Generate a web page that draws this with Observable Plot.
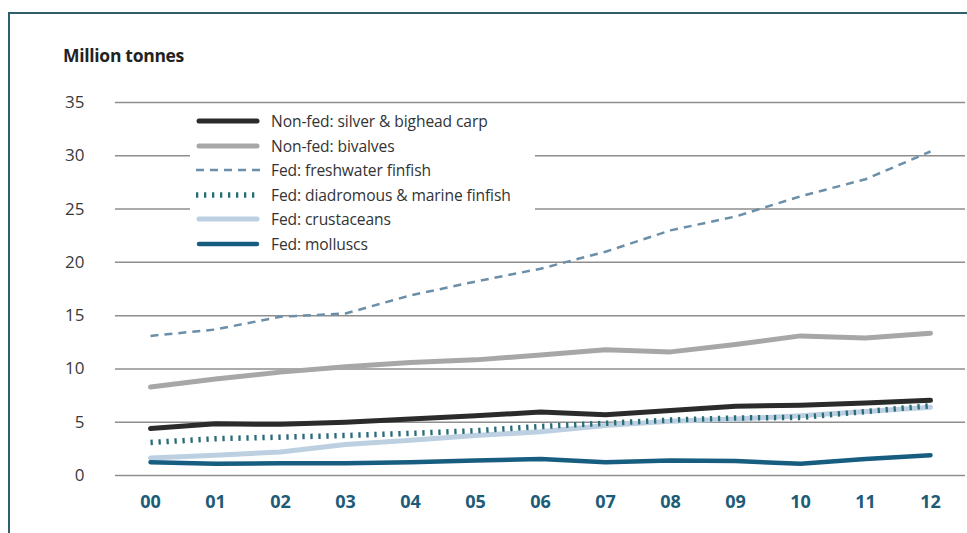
<!DOCTYPE html>
<html>
<head>
<meta charset="utf-8">
<script src="https://cdn.jsdelivr.net/npm/d3@7"></script>
<script src="https://cdn.jsdelivr.net/npm/@observablehq/plot@0.6"></script>
<style>
  html, body { margin: 0; padding: 0; background: #fff; }
  #wrap { position: relative; width: 967px; height: 533px; overflow: hidden; font-family: "Open Sans", "Noto Sans", sans-serif; }
  #frame { position: absolute; left: 8px; top: 12px; right: -10px; bottom: -10px; border-top: 2px solid #2f5f6c; border-left: 2px solid #2f5f6c; }
  #title { position: absolute; left: 63px; top: 43px; font-size: 17.5px; font-weight: 700; color: #222; letter-spacing: -0.3px; }
  #chart { position: absolute; left: 0; top: 0; }
  #legend { position: absolute; left: 190px; top: 108px; width: 345px; height: 147px; background: #fff; }
  .row { position: absolute; left: 0; height: 24px; display: flex; align-items: center; }
  .row svg { display: block; margin-left: 4px; }
  .row span { margin-left: 9px; font-size: 15.6px; color: #333; white-space: nowrap; letter-spacing: -0.1px; }
</style>
</head>
<body>
<div id="wrap">
  <div id="frame"></div>
  <div id="chart"></div>
  <div id="title">Million tonnes</div>
  <div id="legend"></div>
</div>
<script>
const years = ["00","01","02","03","04","05","06","07","08","09","10","11","12"];
const yTicks = [0, 5, 10, 15, 20, 25, 30, 35];

const silverBigheadCarp = [4.4, 4.85, 4.8, 5.0, 5.3, 5.6, 5.95, 5.7, 6.1, 6.5, 6.6, 6.8, 7.05];
const bivalves          = [8.3, 9.05, 9.7, 10.2, 10.6, 10.85, 11.3, 11.8, 11.6, 12.3, 13.1, 12.9, 13.35];
const freshwaterFinfish = [13.1, 13.7, 14.9, 15.2, 16.9, 18.2, 19.4, 21.0, 23.0, 24.3, 26.2, 27.8, 30.4];
const diadromousMarine  = [3.1, 3.45, 3.6, 3.75, 3.95, 4.2, 4.6, 4.9, 5.2, 5.4, 5.45, 6.0, 6.55];
const crustaceans       = [1.65, 1.9, 2.2, 2.9, 3.3, 3.75, 4.1, 4.7, 5.1, 5.3, 5.6, 6.0, 6.4];
const molluscs          = [1.25, 1.1, 1.15, 1.15, 1.25, 1.4, 1.55, 1.25, 1.4, 1.35, 1.1, 1.55, 1.9];

const seriesNames = [
  "Non-fed: silver & bighead carp",
  "Non-fed: bivalves",
  "Fed: freshwater finfish",
  "Fed: diadromous & marine finfish",
  "Fed: crustaceans",
  "Fed: molluscs"
];
const seriesValues = [silverBigheadCarp, bivalves, freshwaterFinfish, diadromousMarine, crustaceans, molluscs];
const styles = [
  {stroke: "#2b2b2b", strokeWidth: 5, strokeLinecap: "round"},
  {stroke: "#a7a7a7", strokeWidth: 5, strokeLinecap: "round"},
  {stroke: "#6b8fa8", strokeWidth: 2.5, strokeDasharray: "8 6", strokeLinecap: "butt"},
  {stroke: "#2a6b78", strokeWidth: 5.5, strokeDasharray: "2.3 5.7", strokeLinecap: "butt"},
  {stroke: "#bcd0e2", strokeWidth: 5, strokeLinecap: "round"},
  {stroke: "#165d80", strokeWidth: 4.5, strokeLinecap: "round"}
];

const tables = seriesValues.map((vals, i) => years.map((y, j) => ({year: y, value: vals[j], series: seriesNames[i]})));
const drawOrder = [4, 5, 1, 2, 3, 0];

const plot = Plot.plot({
  width: 967,
  height: 533,
  marginLeft: 115,
  marginRight: 2,
  marginTop: 102,
  marginBottom: 58,
  style: {fontFamily: "'Open Sans', 'Noto Sans', sans-serif", background: "transparent", overflow: "visible"},
  x: {type: "point", domain: years, range: [147, 933], padding: 0, label: null},
  y: {domain: [0, 35], label: null},
  marks: [
    Plot.ruleY(yTicks, {stroke: "#8e8e8e", strokeWidth: 1.5}),
    Plot.axisY({ticks: yTicks, tickSize: 0, tickPadding: 31, fontSize: 17, fill: "#3a3a3a", label: null}),
    Plot.axisX({tickSize: 0, tickPadding: 20, fontSize: 18, fontWeight: 700, fill: "#1d5c78", label: null}),
    ...drawOrder.map(i => Plot.line(tables[i], {x: "year", y: "value", ...styles[i], curve: "linear"}))
  ]
});
document.getElementById("chart").appendChild(plot);

// Legend
const legend = document.getElementById("legend");
const rowTops = [0, 24.5, 49, 73.5, 98, 122.5];
seriesNames.forEach((name, i) => {
  const row = document.createElement("div");
  row.className = "row";
  row.style.top = (rowTops[i] + 1) + "px";
  const s = styles[i];
  const ns = "http://www.w3.org/2000/svg";
  const svg = document.createElementNS(ns, "svg");
  svg.setAttribute("width", 68);
  svg.setAttribute("height", 12);
  const ln = document.createElementNS(ns, "line");
  const pad = s.strokeLinecap === "round" ? 3 : 0;
  ln.setAttribute("x1", 2 + pad);
  ln.setAttribute("x2", 66 - pad);
  ln.setAttribute("y1", 6);
  ln.setAttribute("y2", 6);
  ln.setAttribute("stroke", s.stroke);
  ln.setAttribute("stroke-width", s.strokeWidth);
  ln.setAttribute("stroke-linecap", s.strokeLinecap);
  if (s.strokeDasharray) ln.setAttribute("stroke-dasharray", s.strokeDasharray);
  svg.appendChild(ln);
  const span = document.createElement("span");
  span.textContent = name;
  row.appendChild(svg);
  row.appendChild(span);
  legend.appendChild(row);
});
</script>
</body>
</html>
